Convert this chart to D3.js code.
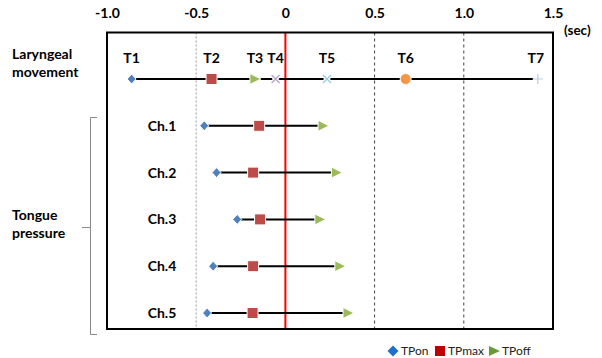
<!DOCTYPE html>
<html><head><meta charset="utf-8">
<script src="https://cdn.jsdelivr.net/npm/d3@7"></script>
<style>body{margin:0;background:#fff}text{font-family:Lato,"Open Sans",sans-serif}</style>
</head><body><svg id="c" width="602" height="358"></svg>
<script>
const tickValues = [-1.0, -0.5, 0, 0.5, 1.0, 1.5];
const tickLabels = ["-1.0", "-0.5", "0", "0.5", "1.0", "1.5"];
const larynxLabels = ["T1","T2","T3","T4","T5","T6","T7"];
const larynxTimes = [-0.862, -0.414, -0.171, -0.055, 0.233, 0.674, 1.415];
const channels = ["Ch.1","Ch.2","Ch.3","Ch.4","Ch.5"];
const tpOn  = [-0.455, -0.386, -0.270, -0.405, -0.439];
const tpMax = [-0.147, -0.181, -0.142, -0.181, -0.184];
const tpOff = [0.211, 0.286, 0.193, 0.305, 0.351];
const legendLabels = ["TPon","TPmax","TPoff"];

(function(){
const svg = d3.select("#c");
const x = d3.scaleLinear().domain([-1, 1.5]).range([107, 553]);
const rows = ["larynx"].concat(channels);
const y = d3.scalePoint().domain(rows).range([79, 313]);
const yTop = 32.5, yBot = 329;

svg.selectAll(".grid").data([-0.5, 0.5, 1.0]).join("line")
  .attr("x1", d => x(d)).attr("x2", d => x(d)).attr("y1", yTop).attr("y2", yBot)
  .attr("stroke", d => d < 0 ? "#999" : "#444").attr("stroke-width", 1)
  .attr("stroke-dasharray", d => d < 0 ? "2,2" : "3,3");

const axis = d3.axisTop(x).tickValues(tickValues).tickFormat((d,i) => tickLabels[i]).tickSize(0);
const ag = svg.append("g").attr("transform", `translate(0,${yTop})`).call(axis);
ag.select(".domain").remove();
ag.selectAll("text").attr("dy", "-0.85em").attr("font-size", 14).attr("font-weight", "bold")
  .attr("fill", "#000").style("font-family", "Lato, sans-serif");
svg.append("text").attr("x", 564).attr("y", 35).attr("font-size", 13.5).attr("font-weight", "bold").text("(sec)");

svg.append("line").attr("x1", x(0)).attr("x2", x(0)).attr("y1", yTop).attr("y2", yBot)
  .attr("stroke", "#ff0000").attr("stroke-width", 2);

svg.append("rect").attr("x", 107).attr("y", yTop).attr("width", 553-107).attr("height", yBot-yTop)
  .attr("fill", "none").attr("stroke", "#000").attr("stroke-width", 2);

function marker(g, kind, cx, cy) {
  const gg = g.append("g").attr("transform", `translate(${cx},${cy})`);
  if (kind === "on") gg.append("path").attr("d", "M0,-5L4.5,0L0,5L-4.5,0Z").attr("fill", "#4F81BD").attr("stroke", "#fff").attr("stroke-width", 1);
  if (kind === "max") gg.append("rect").attr("x", -5.5).attr("y", -5.5).attr("width", 11).attr("height", 11).attr("fill", "#BE4B48").attr("stroke", "#fff").attr("stroke-width", 1);
  if (kind === "off") gg.append("path").attr("d", "M-5,-5.5L6,0L-5,5.5Z").attr("fill", "#9BBB59").attr("stroke", "#fff").attr("stroke-width", 1);
  if (kind === "xp") gg.append("path").attr("d", "M-4,-4L4,4M-4,4L4,-4").attr("stroke", "#fff").attr("stroke-width", 4)
      .clone().attr("stroke", "#B3A2C7").attr("stroke-width", 1.2);
  if (kind === "xc") gg.append("path").attr("d", "M-4,-4L4,4M-4,4L4,-4").attr("stroke", "#fff").attr("stroke-width", 4)
      .clone().attr("stroke", "#93CDDD").attr("stroke-width", 1.2);
  if (kind === "circ") gg.append("circle").attr("r", 5.5).attr("fill", "#F79646").attr("stroke", "#fff").attr("stroke-width", 1);
  if (kind === "plus") gg.append("path").attr("d", "M-5,0L5,0M0,-5L0,5").attr("stroke", "#fff").attr("stroke-width", 4)
      .clone().attr("stroke", "#B9CDE5").attr("stroke-width", 1.2);
}

const ly = y("larynx");
const lg = svg.append("g");
lg.append("line").attr("x1", x(larynxTimes[0])).attr("x2", x(larynxTimes[6])).attr("y1", ly).attr("y2", ly)
  .attr("stroke", "#000").attr("stroke-width", 2);
const kinds = ["on","max","off","xp","xc","circ","plus"];
larynxTimes.forEach((t, i) => marker(lg, kinds[i], x(t), ly));
lg.selectAll(".tl").data(larynxLabels).join("text")
  .attr("x", (d,i) => x(larynxTimes[i]) + (i === 6 ? -2 : 0)).attr("y", ly - 16)
  .attr("text-anchor", "middle").attr("font-size", 14).attr("font-weight", "bold").text(d => d);

channels.forEach((c, i) => {
  const cy = y(c);
  const g = svg.append("g");
  g.append("line").attr("x1", x(tpOn[i])).attr("x2", x(tpOff[i])).attr("y1", cy).attr("y2", cy)
    .attr("stroke", "#000").attr("stroke-width", 2);
  marker(g, "on", x(tpOn[i]), cy);
  marker(g, "max", x(tpMax[i]), cy);
  marker(g, "off", x(tpOff[i]), cy);
  g.append("text").attr("x", 162).attr("y", cy + 5).attr("text-anchor", "middle")
    .attr("font-size", 14).attr("font-weight", "bold").text(c);
});

const lab = (lines, yy) => {
  const t = svg.append("text").attr("x", 12).attr("y", yy).attr("font-size", 14).attr("font-weight", "bold");
  lines.forEach((l, i) => t.append("tspan").attr("x", 12).attr("dy", i ? 18 : 0).text(l));
};
lab(["Laryngeal", "movement"], 59);
lab(["Tongue", "pressure"], 220);

svg.append("path").attr("d", "M97,117.5L90.5,117.5L90.5,334.5L97,334.5M82,227.5L90.5,227.5")
  .attr("fill", "none").attr("stroke", "#888").attr("stroke-width", 1);

const lgX = [393, 440, 494];
legendLabels.forEach((l, i) => {
  const g = svg.append("g");
  if (i === 0) g.append("path").attr("d", "M0,-5.5L5.5,0L0,5.5L-5.5,0Z").attr("transform", `translate(${lgX[i]},351)`).attr("fill", "#1F6FD0");
  if (i === 1) g.append("rect").attr("x", lgX[i]-5).attr("y", 346).attr("width", 10).attr("height", 10).attr("fill", "#C00000");
  if (i === 2) g.append("path").attr("d", "M-5,-5L6,0L-5,5Z").attr("transform", `translate(${lgX[i]},351)`).attr("fill", "#6A9A35");
  g.append("text").attr("x", lgX[i] + 8).attr("y", 355).attr("font-size", 12).attr("fill", "#222").text(l);
});
})();
</script></body></html>
